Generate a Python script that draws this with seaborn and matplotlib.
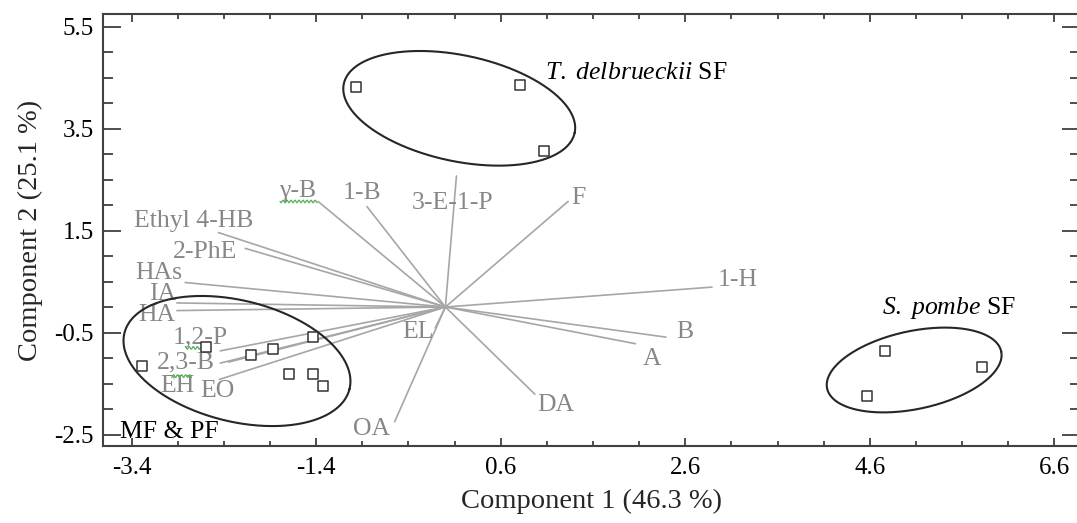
import numpy as np
import pandas as pd
import matplotlib
matplotlib.use("Agg")
import matplotlib.pyplot as plt
import matplotlib.transforms as mtransforms
import seaborn as sns

# ---------------- data ----------------
# PCA scores (samples)
score_group = ["TD", "TD", "TD",
               "SP", "SP", "SP",
               "MP", "MP", "MP", "MP", "MP", "MP", "MP", "MP"]
score_x = [-0.97, 0.81, 1.07,
           4.77, 5.82, 4.57,
           -3.29, -2.60, -2.11, -1.87, -1.43, -1.69, -1.44, -1.33]
score_y = [4.31, 4.35, 3.05,
           -0.86, -1.18, -1.74,
           -1.15, -0.79, -0.94, -0.82, -0.59, -1.31, -1.31, -1.54]

# loadings (variables)
var_names = ["γ-B", "1-B", "Ethyl 4-HB", "2-PhE", "HAs", "IA", "HA", "1,2-P",
             "2,3-B", "EH", "EO", "EL", "OA", "3-E-1-P", "F", "1-H", "B", "A", "DA"]
var_x = [-1.38, -0.85, -2.46, -2.17, -2.82, -2.91, -2.91, -2.44,
         -2.44, -2.35, -2.45, -0.11, -0.55, 0.12, 1.33, 2.89, 2.39, 2.06, 0.97]
var_y = [2.07, 1.97, 1.46, 1.15, 0.48, 0.08, -0.07, -0.86,
         -1.10, -1.08, -1.42, -0.41, -2.25, 2.57, 2.07, 0.39, -0.59, -0.72, -1.71]

# group labels
group_species = ["T. delbrueckii", "S. pombe"]
group_suffix = " SF"
group_mixed = "MF & PF"

# ---------------- style ----------------
sns.set_style("ticks")
plt.rcParams["font.family"] = ["Liberation Serif", "DejaVu Serif"]
plt.rcParams["axes.unicode_minus"] = False
plt.rcParams["mathtext.fontset"] = "custom"
plt.rcParams["mathtext.rm"] = "Liberation Serif"
plt.rcParams["mathtext.it"] = "Liberation Serif:italic"

fig = plt.figure(figsize=(10.77, 5.23), dpi=100)
ax = fig.add_axes([0.0961, 0.1472, 1.0028 - 0.0961, 0.9732 - 0.1472])

GRAY_LINE = "#a6a6a6"
GRAY_TEXT = "#878787"

# axes limits first (needed for offset transforms)
ax.set_xlim(-3.7057, 6.8786)
ax.set_ylim(-2.7255, 5.745)

# loading vectors
for vx, vy in zip(var_x, var_y):
    ax.plot([0, vx], [0, vy], color=GRAY_LINE, lw=1.2, zorder=1)

# label offsets (points) relative to vector tips
label_off = {
    "γ-B": (-15.1, 7.2), "1-B": (-3.6, 9.4), "Ethyl 4-HB": (-18, 8.6),
    "2-PhE": (-28.8, -2.9), "HAs": (-19.1, 7.2), "IA": (-10.1, 6.5),
    "HA": (-14.4, -2.9), "1,2-P": (-14.4, 9.4), "2,3-B": (-24.5, 0.7),
    "EH": (-36.7, -17.3), "EO": (-1.4, -8.6), "EL": (-12.2, -3.2),
    "OA": (-16.9, -5.0), "3-E-1-P": (-2.9, -19.4), "F": (7.2, 2.2),
    "1-H": (18.7, 5.0), "B": (13.7, 3.6), "A": (12.2, -10.8), "DA": (15.1, -7.9),
}
for name, vx, vy in zip(var_names, var_x, var_y):
    ax.annotate(name, (vx, vy), xytext=label_off[name], textcoords="offset points",
                ha="center", va="center", fontsize=18.5, color=GRAY_TEXT, zorder=2)

# green wavy underlines (spell-check marks) under some labels, in pixel offsets
squiggles = {"γ-B": (-38, -1, 0), "1,2-P": (-35, -20, 3), "EH": (-57, -37, -14)}
for name, (x0, x1, dy) in squiggles.items():
    i = var_names.index(name)
    tr = mtransforms.offset_copy(ax.transData, fig=fig, x=0, y=0, units="dots")
    base = ax.transData.transform((var_x[i], var_y[i]))
    sx = np.linspace(x0, x1, 60)
    sy = dy + 1.3 * np.sin(sx * 2 * np.pi / 4.0)
    pts = np.column_stack([base[0] + sx, base[1] + sy])
    ax.plot(pts[:, 0], pts[:, 1], color="#55b055", lw=0.9, transform=None,
            zorder=2)

# scores
df = pd.DataFrame({"x": score_x, "y": score_y, "g": score_group})
sns.scatterplot(data=df, x="x", y="y", marker="s", s=45, facecolor="white",
                edgecolor="#333333", linewidth=1.1, ax=ax, zorder=3, legend=False)

# group ellipses (center in data, semi-axis vectors in data units)
ellipses = [
    ((0.15, 3.896), (1.251, -0.481), (-0.1195, -1.016)),
    ((5.081, -1.235), (0.9435, 0.363), (-0.0879, 0.748)),
    ((-2.259, -1.059), (1.2196, -0.5504), (-0.1587, -1.1507)),
]
t = np.linspace(0, 2 * np.pi, 300)
for (cx, cy), (ux, uy), (wx, wy) in ellipses:
    ex = cx + ux * np.cos(t) + wx * np.sin(t)
    ey = cy + uy * np.cos(t) + wy * np.sin(t)
    ax.plot(ex, ey, color="#262626", lw=1.5, zorder=2)

def italic(s):
    return r"$\it{" + s.replace(" ", r"\ ") + "}$"

ax.text(1.08, 4.59, italic(group_species[0]) + group_suffix, fontsize=18.5,
        color="black", ha="left", va="center")
ax.text(4.73, -0.02, italic(group_species[1]) + group_suffix, fontsize=18.5,
        color="black", ha="left", va="center")
ax.text(-3.53, -2.445, group_mixed, fontsize=18.5, color="black",
        ha="left", va="center")

# axes
xt = [-3.4, -1.4, 0.6, 2.6, 4.6, 6.6]
yt = [-2.5, -0.5, 1.5, 3.5, 5.5]
ax.set_xticks(xt)
ax.set_xticklabels([f"{v:.1f}" for v in xt])
ax.set_yticks(yt)
ax.set_yticklabels([f"{v:.1f}" for v in yt])
ax.set_xticks(np.arange(-3.4, 6.9, 0.5), minor=True)
ax.set_yticks(np.arange(-2.5, 5.6, 0.5), minor=True)
ax.set_xlim(-3.7057, 6.8786)
ax.set_ylim(-2.7255, 5.745)

for s in ax.spines.values():
    s.set_visible(True)
    s.set_color("#404040")
    s.set_linewidth(1.5)

ax.tick_params(axis="both", which="both", direction="in", top=True, right=True,
               colors="#404040", labelcolor="black", width=1.3, labelsize=18)
ax.tick_params(axis="x", which="major", length=6, pad=8)
ax.tick_params(axis="x", which="minor", length=3.5)
ax.tick_params(axis="y", which="major", length=13, pad=7)
ax.tick_params(axis="y", which="minor", length=7)

ax.set_xlabel("Component 1 (46.3 %)", fontsize=20.5, labelpad=7)
ax.set_ylabel("Component 2 (25.1 %)", fontsize=20.5, labelpad=8)

fig.savefig("out.png", dpi=100)
